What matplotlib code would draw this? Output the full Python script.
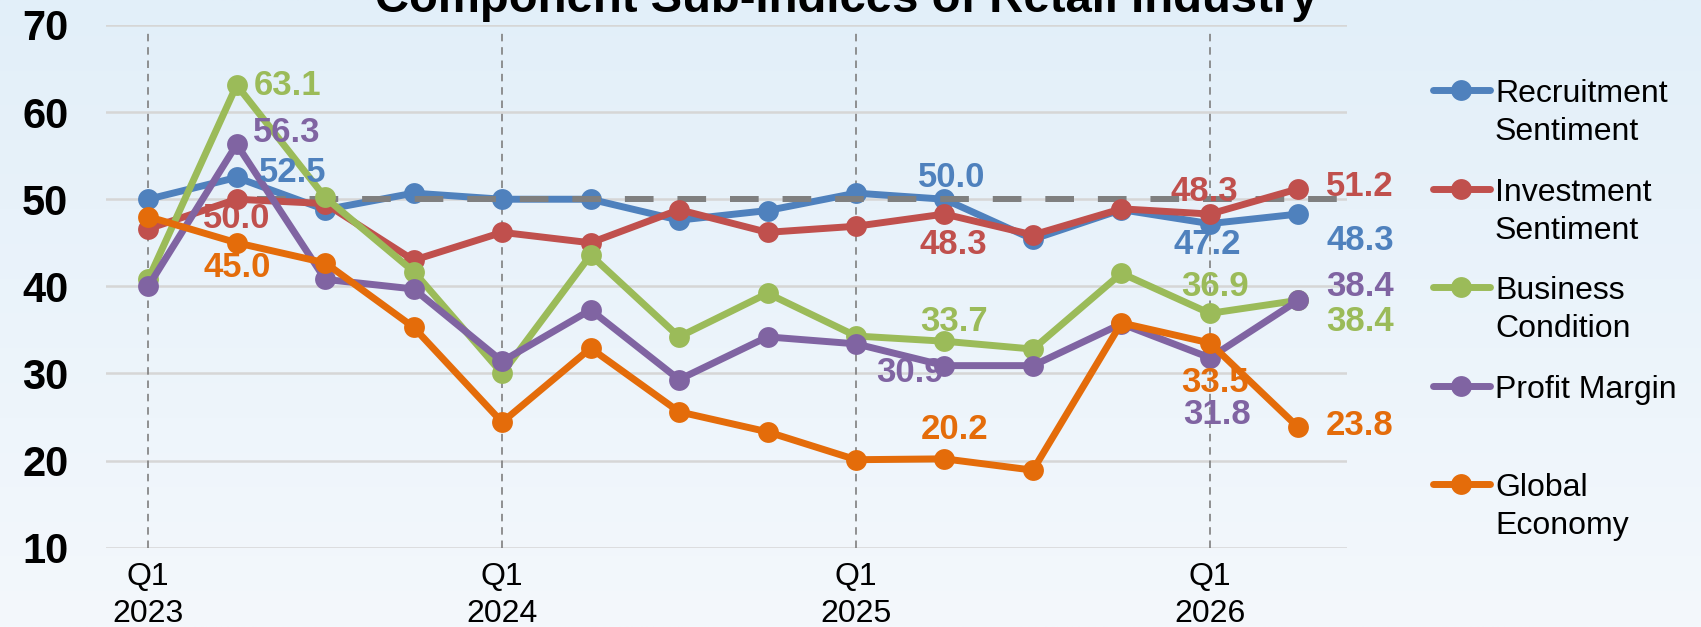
import numpy as np
import matplotlib
matplotlib.use("Agg")
import matplotlib.pyplot as plt
from matplotlib.lines import Line2D

plt.rcParams['font.family'] = ['Liberation Sans', 'DejaVu Sans']

# ---------------- data ----------------
quarters = np.arange(14)
tick_pos = [0, 4, 8, 12]
tick_labels = ["Q1\n2023", "Q1\n2024", "Q1\n2025", "Q1\n2026"]

series_names = ["Recruitment\nSentiment", "Investment\nSentiment", "Business\nCondition",
                "Profit Margin", "Global\nEconomy"]
recruitment = [50.0, 52.5, 48.8, 50.7, 50.0, 50.0, 47.6, 48.7, 50.7, 50.0, 45.4, 48.8, 47.2, 48.3]
investment  = [46.6, 50.0, 49.5, 43.0, 46.2, 45.0, 48.8, 46.2, 46.9, 48.3, 45.9, 48.9, 48.3, 51.2]
business    = [40.8, 63.1, 50.2, 41.7, 30.0, 43.6, 34.2, 39.2, 34.3, 33.7, 32.8, 41.5, 36.9, 38.4]
profit      = [40.0, 56.3, 40.8, 39.7, 31.4, 37.3, 29.3, 34.2, 33.4, 30.9, 30.9, 35.7, 31.8, 38.4]
global_econ = [48.0, 45.0, 42.7, 35.3, 24.4, 32.9, 25.6, 23.3, 20.1, 20.2, 18.9, 35.8, 33.5, 23.8]
series = [recruitment, investment, business, profit, global_econ]
colors = ["#4f81bd", "#c0504d", "#9bbb59", "#8064a2", "#e46c0a"]
threshold = 50

# labelled points: (series index, point index, dx pt, dy pt, ha)
labels = [
    (2, 1, 12, 0, "left"),
    (3, 1, 12, 8.5, "left"),
    (0, 1, 16, 3.5, "left"),
    (1, 1, 0, -14, "center"),
    (4, 1, 0, -18, "center"),
    (0, 9, 5, 16, "center"),
    (1, 9, 6.5, -22, "center"),
    (2, 9, 7, 14.5, "center"),
    (3, 9, -25, -5, "center"),
    (4, 9, 7, 21, "center"),
    (1, 12, -4, 16, "center"),
    (0, 12, -2, -15, "center"),
    (2, 12, 4, 19.5, "center"),
    (4, 12, 4, -28.5, "center"),
    (3, 12, 5.5, -41, "center"),
    (1, 13, 20, 1.5, "left"),
    (0, 13, 20, -19, "left"),
    (3, 13, 20, 10, "left"),
    (2, 13, 20, -15, "left"),
    (4, 13, 20, 1.5, "left"),
]

title = "Component Sub-Indices of Retail Industry"

# ---------------- figure ----------------
W, H = 1701, 627
fig = plt.figure(figsize=(W / 100, H / 100), dpi=100)

# background gradient
bg = fig.add_axes([0, 0, 1, 1], zorder=-10)
grad = np.linspace(0, 1, 256)[:, None]
top = np.array([226, 239, 249]) / 255
bot = np.array([244, 248, 252]) / 255
img = top[None, None, :] * (1 - grad[:, :, None]) + bot[None, None, :] * grad[:, :, None]
img = np.repeat(img, 4, axis=1)
bg.imshow(img, aspect='auto', extent=[0, 1, 0, 1])
bg.axis('off')

ax = fig.add_axes([105.8 / W, 1 - 547.7 / H, (1347 - 105.8) / W, (547.7 - 25) / H])
ax.set_facecolor('none')
ax.set_xlim(-0.48, 13.55)
ax.set_ylim(10, 70)

ax.set_yticks(np.arange(10, 71, 10))
ax.yaxis.grid(True, color="#d6d6d6", lw=1.8, zorder=0)
ax.set_axisbelow(True)
for s in ax.spines.values():
    s.set_visible(False)
ax.tick_params(axis='both', length=0)
ax.tick_params(axis='y', pad=27, labelsize=30)
for t in ax.get_yticklabels():
    t.set_fontweight('bold')
ax.set_xticks(tick_pos)
ax.set_xticklabels(tick_labels, fontsize=23, linespacing=1.32)
ax.tick_params(axis='x', pad=10)

# vertical dashed lines at Q1
ax.vlines(tick_pos, 10, 69.2, colors="#7f7f7f", lw=1.2, linestyles=(0, (4.5, 3.5)), zorder=1)

# series
zorders = [3, 5, 6, 7, 8]
for vals, c, z in zip(series, colors, zorders):
    ax.plot(quarters, vals, color=c, lw=5, marker='o', markersize=15,
            markeredgewidth=0, zorder=z, solid_joinstyle='round')

# threshold line
ax.hlines(threshold, 1.23, 13.5, colors="#7f7f7f", lw=4.3,
          linestyles=(0, (4.8, 4.0)), zorder=4)

# data labels
for si, pi, dx, dy, ha in labels:
    v = series[si][pi]
    ax.annotate(f"{v:.1f}", (quarters[pi], v), xytext=(dx, dy), textcoords='offset points',
                ha=ha, va='center', fontsize=25, fontweight='bold', color=colors[si], zorder=10)

# title (partly cut off at top as in reference)
fig.text(846 / W, 1 - 12 / H, title, ha='center', va='baseline', fontsize=34, fontweight='bold')

# legend drawn manually
rows_y = [90, 188.8, 287, 386, 484]
for name, c, yy in zip(series_names, colors, rows_y):
    yf = 1 - yy / H
    fig.add_artist(Line2D([1433 / W, 1490 / W], [yf, yf], color=c, lw=5,
                          transform=fig.transFigure, solid_capstyle='round'))
    fig.add_artist(Line2D([1461 / W], [yf], color=c, marker='o', markersize=15,
                          markeredgewidth=0, transform=fig.transFigure))
    fig.text(1495 / W, yf + 11 / H, name, ha='left', va='top', fontsize=23, linespacing=1.34)

fig.savefig("out.png", dpi=100)
